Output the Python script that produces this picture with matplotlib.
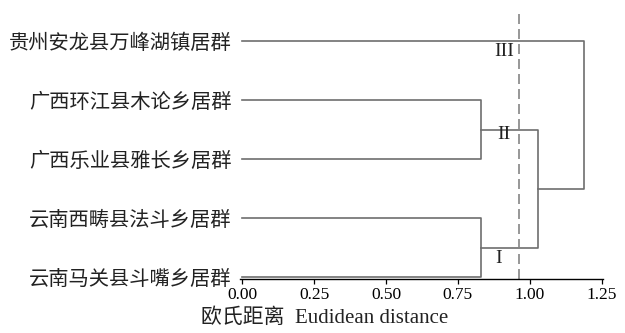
import matplotlib.pyplot as plt

# 居群名称（从下到上）
leaves = ['云南马关县斗嘴乡居群', '云南西畴县法斗乡居群', '广西乐业县雅长乡居群',
          '广西环江县木论乡居群', '贵州安龙县万峰湖镇居群']
# 聚类合并 (左, 右, 距离)，节点编号 5 起
merges = [(0, 1, 0.83), (2, 3, 0.83), (5, 6, 1.03), (7, 4, 1.19)]
cut = 0.964
groups = ['I', 'II', 'III']
group_pos = [(0.89, 0.31), (0.91, 2.42), (0.91, 3.82)]
xticks = [0.00, 0.25, 0.50, 0.75, 1.00, 1.25]

fig = plt.figure(figsize=(6.25, 3.33), dpi=100)
ax = fig.add_axes([0.384, 0.162, 0.581, 0.796])
lc = '#6e6e6e'

# 节点位置
pos = {i: (0.0, float(i)) for i in range(len(leaves))}
for k, (a, b, d) in enumerate(merges):
    xa, ya = pos[a]
    xb, yb = pos[b]
    ax.plot([xa, d, d, xb], [ya, ya, yb, yb], color=lc, lw=1.2)
    pos[len(leaves) + k] = (d, (ya + yb) / 2)

ax.axvline(cut, color='#858585', lw=1.2, dashes=(6, 3))

for g, (gx, gy) in zip(groups, group_pos):
    ax.text(gx, gy, g, ha='center', va='center', fontsize=14,
            family='Liberation Serif', color='#222222')

ax.set_xlim(-0.008, 1.255)
ax.set_ylim(-0.035, 4.46)
ax.set_xticks(xticks)
ax.set_xticklabels(['%.2f' % t for t in xticks], family='Liberation Serif',
                   fontsize=12.5)
ax.set_yticks(range(len(leaves)))
ax.set_yticklabels(leaves, family='Noto Sans CJK SC', fontsize=14.6,
                   weight='light', color='#222222')
ax.tick_params(axis='y', length=0, pad=6)
ax.tick_params(axis='x', length=3.5, pad=2, width=0.9)
for s in ['top', 'right', 'left']:
    ax.spines[s].set_visible(False)
ax.spines['bottom'].set_linewidth(1.0)

fig.text(0.52, 0.045, '欧氏距离  Eudidean distance', ha='center', va='center',
         fontsize=15, family=['Liberation Serif', 'Noto Sans CJK SC'],
         color='#222222')

fig.savefig('out.png', dpi=100)
